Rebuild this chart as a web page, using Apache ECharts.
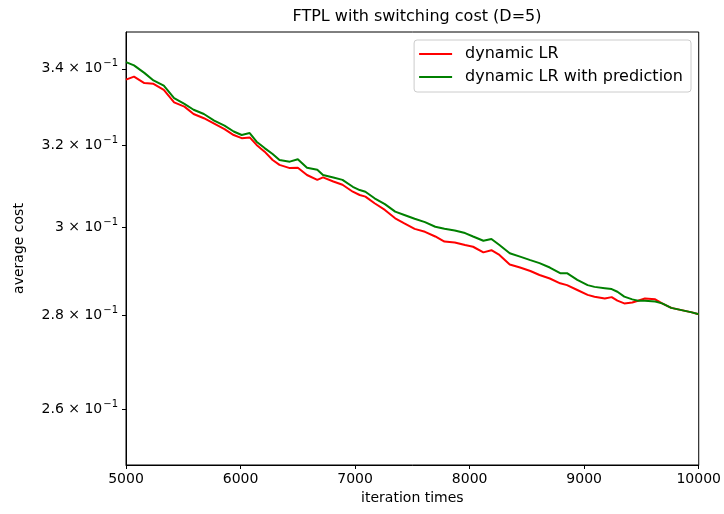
<!DOCTYPE html>
<html>
<head>
<meta charset="utf-8">
<script src="https://cdn.jsdelivr.net/npm/echarts@6.0.0/dist/echarts.min.js"></script>
<style>
  html, body { margin: 0; padding: 0; background: #fff; }
  #chart { width: 724px; height: 514px; }
</style>
</head>
<body>
<div id="chart"></div>
<script>
// iteration index (x) shared by both curves
var iterations = [5000, 5070, 5160, 5240, 5330, 5420, 5510, 5590, 5680, 5770,
  5860, 5940, 6010, 6080, 6140, 6210, 6280, 6340, 6430, 6500,
  6580, 6670, 6720, 6810, 6890, 6980, 7040, 7090, 7170, 7260,
  7350, 7430, 7520, 7610, 7700, 7780, 7870, 7960, 8030, 8120,
  8190, 8260, 8350, 8440, 8530, 8610, 8700, 8790, 8850, 8940,
  9030, 9090, 9180, 9240, 9290, 9350, 9420, 9470, 9530, 9620,
  9680, 9760, 9850, 9940, 10000];

// average cost, dynamic LR
var dynamicLR = [0.3371, 0.3379, 0.3362, 0.3360, 0.3344, 0.3311, 0.3300, 0.3281, 0.3270, 0.3256,
  0.3242, 0.3227, 0.3219, 0.3221, 0.3202, 0.3185, 0.3164, 0.3152, 0.3144, 0.3145,
  0.3127, 0.3115, 0.3121, 0.3111, 0.3103, 0.3086, 0.3078, 0.3074, 0.3058, 0.3042,
  0.3022, 0.3010, 0.2997, 0.2990, 0.2979, 0.2967, 0.2965, 0.2959, 0.2955, 0.2942,
  0.2947, 0.2936, 0.2914, 0.2907, 0.2899, 0.2890, 0.2882, 0.2871, 0.2867, 0.2856,
  0.2845, 0.2841, 0.2837, 0.2840, 0.2832, 0.2826, 0.2828, 0.2832, 0.2837, 0.2835,
  0.2826, 0.2816, 0.2811, 0.2806, 0.2802];

// average cost, dynamic LR with prediction
var dynamicLRPred = [0.3418, 0.3409, 0.3389, 0.3369, 0.3355, 0.3322, 0.3307, 0.3292, 0.3281, 0.3264,
  0.3251, 0.3236, 0.3227, 0.3232, 0.3210, 0.3194, 0.3179, 0.3164, 0.3160, 0.3166,
  0.3145, 0.3140, 0.3127, 0.3121, 0.3115, 0.3098, 0.3090, 0.3086, 0.3070, 0.3056,
  0.3038, 0.3030, 0.3021, 0.3013, 0.3002, 0.2997, 0.2993, 0.2987, 0.2979, 0.2969,
  0.2973, 0.2959, 0.2940, 0.2932, 0.2924, 0.2917, 0.2907, 0.2894, 0.2894, 0.2879,
  0.2867, 0.2863, 0.2860, 0.2858, 0.2852, 0.2841, 0.2835, 0.2832, 0.2832, 0.2830,
  0.2826, 0.2816, 0.2811, 0.2806, 0.2802];

var yTicks = [0.26, 0.28, 0.30, 0.32, 0.34];
var seriesNames = ['dynamic LR', 'dynamic LR with prediction'];

var FONT = 'DejaVu Sans';

function pairs(ys) {
  return iterations.map(function (x, i) { return [x, ys[i]]; });
}

// "3.4 × 10^-1" style labels, exponent as raised smaller text
function sciLabel(v) {
  var m = Math.round(v * 100) / 10;
  var s = (m % 1 === 0) ? String(m) : m.toFixed(1);
  return '{a|' + s + ' \u00d7 10}{b|\u22121}';
}

var chart = echarts.init(document.getElementById('chart'));
chart.setOption({
  animation: false,
  backgroundColor: '#fff',
  title: {
    text: 'FTPL with switching cost (D=5)',
    left: 412,
    top: 4,
    textAlign: 'center',
    textStyle: { fontFamily: FONT, fontSize: 16, fontWeight: 'normal', color: '#000' }
  },
  legend: {
    orient: 'vertical',
    right: 33,
    top: 40,
    padding: [6, 8, 7, 5],
    icon: 'rect',
    itemWidth: 33,
    itemHeight: 2,
    itemGap: 7,
    borderColor: '#cccccc',
    borderWidth: 1,
    borderRadius: 3,
    backgroundColor: 'rgba(255,255,255,0.8)',
    textStyle: { fontFamily: FONT, fontSize: 16, color: '#000', padding: [0, 0, 0, 8], lineHeight: 16 },
    data: seriesNames
  },
  grid: {
    left: 126,
    right: 25,
    top: 32,
    bottom: 49,
    show: true,
    borderColor: '#000',
    borderWidth: 1,
    containLabel: false
  },
  xAxis: {
    type: 'value',
    min: 5000,
    max: 10000,
    interval: 1000,
    name: 'iteration times',
    nameLocation: 'middle',
    nameGap: 25,
    nameTextStyle: { fontFamily: FONT, fontSize: 14, color: '#000' },
    axisLine: { lineStyle: { color: '#000', width: 1 } },
    axisTick: { length: 4, lineStyle: { color: '#000' } },
    axisLabel: {
      fontFamily: FONT, fontSize: 14, color: '#000', margin: 7,
      formatter: function (v) { return String(v); }
    },
    splitLine: { show: false }
  },
  yAxis: {
    type: 'log',
    logBase: 10,
    min: 0.2488,
    max: 0.35,
    name: 'average cost',
    nameLocation: 'middle',
    nameGap: 100,
    nameTextStyle: { fontFamily: FONT, fontSize: 14, color: '#000' },
    axisLine: { show: true, lineStyle: { color: '#000', width: 1 } },
    axisTick: { show: true, length: 4, lineStyle: { color: '#000' }, customValues: yTicks },
    axisLabel: {
      color: '#000', margin: 8,
      customValues: yTicks,
      formatter: sciLabel,
      rich: {
        a: { fontFamily: FONT, fontSize: 14, color: '#000', lineHeight: 20 },
        b: { fontFamily: FONT, fontSize: 10, color: '#000', verticalAlign: 'top', lineHeight: 10, padding: [0, 0, 0, 1] }
      }
    },
    minorTick: { show: false },
    splitLine: { show: false }
  },
  series: [
    {
      name: seriesNames[0],
      type: 'line',
      symbol: 'none',
      data: pairs(dynamicLR),
      lineStyle: { color: '#ff0000', width: 2 },
      itemStyle: { color: '#ff0000' }
    },
    {
      name: seriesNames[1],
      type: 'line',
      symbol: 'none',
      data: pairs(dynamicLRPred),
      lineStyle: { color: '#008000', width: 2 },
      itemStyle: { color: '#008000' }
    }
  ]
});
</script>
</body>
</html>
